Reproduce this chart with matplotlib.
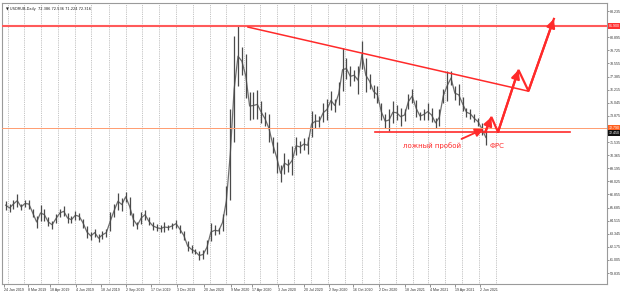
import matplotlib
matplotlib.use("Agg")
import matplotlib.pyplot as plt
import pandas as pd
import numpy as np

# ---------------- data ----------------
start_date = "2019-01-24"
# weekly low / high of USDRUB daily bars (week starting each Thursday)
week_low = [65.5, 65.3, 65.6, 65.7, 65.5, 65.7, 65.6, 64.8, 63.9, 64.5,
            64.5, 64.0, 63.8, 64.3, 64.8, 64.9, 64.3, 64.3, 64.6, 64.6,
            63.9, 63.0, 62.8, 63.1, 62.6, 62.9, 63.1, 63.6, 64.8, 65.5,
            65.4, 66.2, 65.0, 64.0, 63.8, 64.2, 64.6, 64.1, 63.7, 63.6,
            63.5, 63.5, 63.7, 63.8, 63.9, 63.4, 62.8, 61.8, 61.6, 61.5,
            61.0, 61.1, 61.5, 62.7, 63.2, 63.3, 63.6, 65.0, 66.4, 71.5,
            76.5, 77.5, 75.5, 73.5, 73.6, 73.6, 73.2, 73.0, 71.5, 70.6,
            68.8, 68.0, 68.7, 68.9, 68.6, 70.4, 70.6, 70.8, 70.5, 72.0,
            72.8, 72.9, 73.3, 73.5, 74.4, 74.2, 74.8, 76.1, 77.2, 76.5,
            77.0, 75.8, 78.1, 76.0, 76.3, 75.5, 75.0, 73.5, 72.8, 72.5,
            73.2, 73.5, 73.0, 73.4, 74.5, 75.0, 73.8, 73.5, 73.5, 73.5,
            73.3, 72.8, 73.0, 75.0, 75.2, 76.6, 75.3, 74.8, 74.3, 73.8,
            73.6, 73.3, 73.0, 72.2, 71.3]
week_high = [66.3, 66.0, 66.4, 66.9, 66.0, 66.4, 66.4, 65.6, 64.9, 65.9,
             65.6, 64.8, 64.5, 65.1, 65.6, 65.8, 65.2, 64.9, 65.4, 65.2,
             64.7, 64.0, 63.5, 63.8, 63.3, 63.6, 63.8, 65.3, 66.0, 67.0,
             66.5, 67.1, 66.6, 65.2, 64.4, 65.3, 65.5, 64.8, 64.4, 64.2,
             64.1, 64.4, 64.1, 64.3, 64.6, 64.1, 63.6, 62.7, 62.3, 62.0,
             61.8, 61.9, 62.8, 64.3, 64.1, 63.9, 65.1, 67.6, 74.5, 81.0,
             81.9, 80.0, 79.4, 76.0, 76.0, 76.2, 75.2, 74.2, 74.0, 72.0,
             71.5, 69.5, 70.6, 70.0, 71.2, 72.0, 71.6, 71.9, 72.0, 74.3,
             74.0, 73.9, 75.0, 75.4, 76.1, 75.4, 76.9, 79.9, 79.0, 78.3,
             78.0, 78.3, 80.6, 79.0, 77.6, 76.6, 76.5, 75.0, 74.0, 74.5,
             75.2, 74.8, 74.6, 74.5, 75.8, 76.3, 75.3, 74.2, 74.5, 75.0,
             74.6, 73.7, 74.5, 76.3, 77.9, 77.9, 76.5, 76.7, 75.6, 74.6,
             74.5, 74.0, 73.7, 73.2, 72.6]

xtick_labels = ["24 Jan 2019", "8 Mar 2019", "18 Apr 2019", "4 Jun 2019",
                "18 Jul 2019", "2 Sep 2019", "17 Oct 2019", "3 Dec 2019",
                "20 Jan 2020", "9 Mar 2020", "17 Apr 2020", "3 Jun 2020",
                "20 Jul 2020", "2 Sep 2020", "16 Oct 2020", "2 Dec 2020",
                "18 Jan 2021", "4 Mar 2021", "19 Apr 2021", "2 Jun 2021"]
ytick_values = [83.235, 82.065, 80.895, 79.725, 78.555, 77.385, 76.215,
                75.045, 73.875, 72.705, 71.535, 70.365, 69.195, 68.025,
                66.855, 65.685, 64.515, 63.345, 62.175, 61.005, 59.835]
grid_first, grid_last = "2019-02-01", "2021-07-01"

resistance_level = 81.90
ask_level = 72.79
support_level = 72.45
support_dates = ["2020-11-25", "2021-11-13"]
trend_dates = ["2020-04-09", "2021-08-27"]
trend_values = [81.80, 76.10]
path_dates = ["2021-06-12", "2021-06-23", "2021-07-05", "2021-08-11",
              "2021-08-29", "2021-10-14"]
path_values = [72.43, 73.77, 72.43, 77.97, 76.10, 82.53]
fake_text = "ложный пробой"
fake_text_pos = ("2021-03-08", 71.18)
fake_arrow = (["2021-04-30", "2021-06-09"], [71.81, 72.70])
fed_text = "ФРС"
fed_text_pos = ("2021-07-03", 71.18)
title_text = "USDRUB,Daily  72.386 72.536 71.224 72.316"
label_red = "81.900"
label_orange = "72.790"
label_black = "72.450"

# ---------------- plot ----------------
plt.rcParams["font.family"] = ["Liberation Sans", "DejaVu Sans"]
red = "#ff2a2a"
fs = 2.6
fig = plt.figure(figsize=(6.2, 2.92), dpi=100)
fig.patch.set_facecolor("white")
ax = fig.add_axes([2 / 620, 8 / 292, 605 / 620, 281 / 292])
ax.set_facecolor("white")

t0 = pd.Timestamp(start_date)
wdates = pd.date_range(t0 + pd.Timedelta(days=3), periods=len(week_low), freq="7D")
mid = [(a + b) / 2 for a, b in zip(week_low, week_high)]
ax.plot(wdates, mid, color="#6e6e6e", lw=0.9, zorder=2)
ax.vlines(wdates, week_low, week_high, color="#4a4a4a", lw=0.9, zorder=3)

ax.set_xlim(t0 - pd.Timedelta(days=3.6), t0 + pd.Timedelta(days=1090))
ax.set_ylim(58.86, 83.95)

# monthly dotted grid
for d in pd.date_range(grid_first, grid_last, freq="MS"):
    ax.axvline(d, color="#b0b0b0", lw=0.6, ls=(0, (1, 1.2)), zorder=0)

tick_dates = [pd.to_datetime(s, format="%d %b %Y") for s in xtick_labels]
ax.set_xticks(tick_dates)
ax.set_xticklabels(xtick_labels, fontsize=fs, ha="left")
ax.tick_params(axis="x", length=2, width=0.5, pad=1.2, colors="#666666",
               labelcolor="#333333")

ax.yaxis.tick_right()
ax.set_yticks(ytick_values)
ax.set_yticklabels([f"{v:.3f}" for v in ytick_values], fontsize=fs)
ax.tick_params(axis="y", length=1.5, width=0.5, pad=0.8, colors="#666666",
               labelcolor="#333333")

for s in ax.spines.values():
    s.set_color("#9a9a9a")
    s.set_linewidth(0.8)

# drawn objects
ax.axhline(resistance_level, color="#ff5a5a", lw=1.5, zorder=3)
ax.axhline(ask_level, color="#ff9c70", lw=0.7, zorder=3)
ax.plot(pd.to_datetime(support_dates), [support_level] * 2, color=red, lw=1.2, zorder=4)
ax.plot(pd.to_datetime(trend_dates), trend_values, color=red, lw=1.1, zorder=4)

pd_path = pd.to_datetime(path_dates)
ax.plot(pd_path, path_values, color=red, lw=1.6, zorder=5, solid_joinstyle="miter")
for i in (1, 3, 5):
    ax.annotate("", xy=(pd_path[i], path_values[i]),
                xytext=(pd_path[i - 1], path_values[i - 1]),
                arrowprops=dict(arrowstyle="-|>,head_length=0.5,head_width=0.25",
                                color=red, lw=1.6, shrinkA=0, shrinkB=0), zorder=5)

ax.text(pd.Timestamp(fake_text_pos[0]), fake_text_pos[1], fake_text,
        color=red, fontsize=5, ha="center", va="center",
        family=["DejaVu Sans"])
fa = pd.to_datetime(fake_arrow[0])
ax.annotate("", xy=(fa[1], fake_arrow[1][1]), xytext=(fa[0], fake_arrow[1][0]),
            arrowprops=dict(arrowstyle="-|>,head_length=0.5,head_width=0.25",
                            color=red, lw=1.3, shrinkA=0, shrinkB=0))
ax.text(pd.Timestamp(fed_text_pos[0]), fed_text_pos[1], fed_text,
        color=red, fontsize=5, ha="center", va="center",
        family=["DejaVu Sans"])

ax.text(0.006, 0.985, "\u25bc " + title_text, transform=ax.transAxes,
        fontsize=fs, color="#222222", ha="left", va="top",
        family=["DejaVu Sans"])

# price labels on the right axis
for val, txt, fc, tc in [(resistance_level, label_red, "#ff3030", "white"),
                         (ask_level, label_orange, "#ff6020", "white"),
                         (support_level - 0.12, label_black, "#111111", "white")]:
    ax.text(1.0035, val, txt, transform=ax.get_yaxis_transform(), fontsize=fs,
            color=tc, ha="left", va="center", zorder=10,
            bbox=dict(boxstyle="square,pad=0.2", fc=fc, ec="none"), clip_on=False)

fig.savefig("out.png", dpi=100, facecolor="white")
